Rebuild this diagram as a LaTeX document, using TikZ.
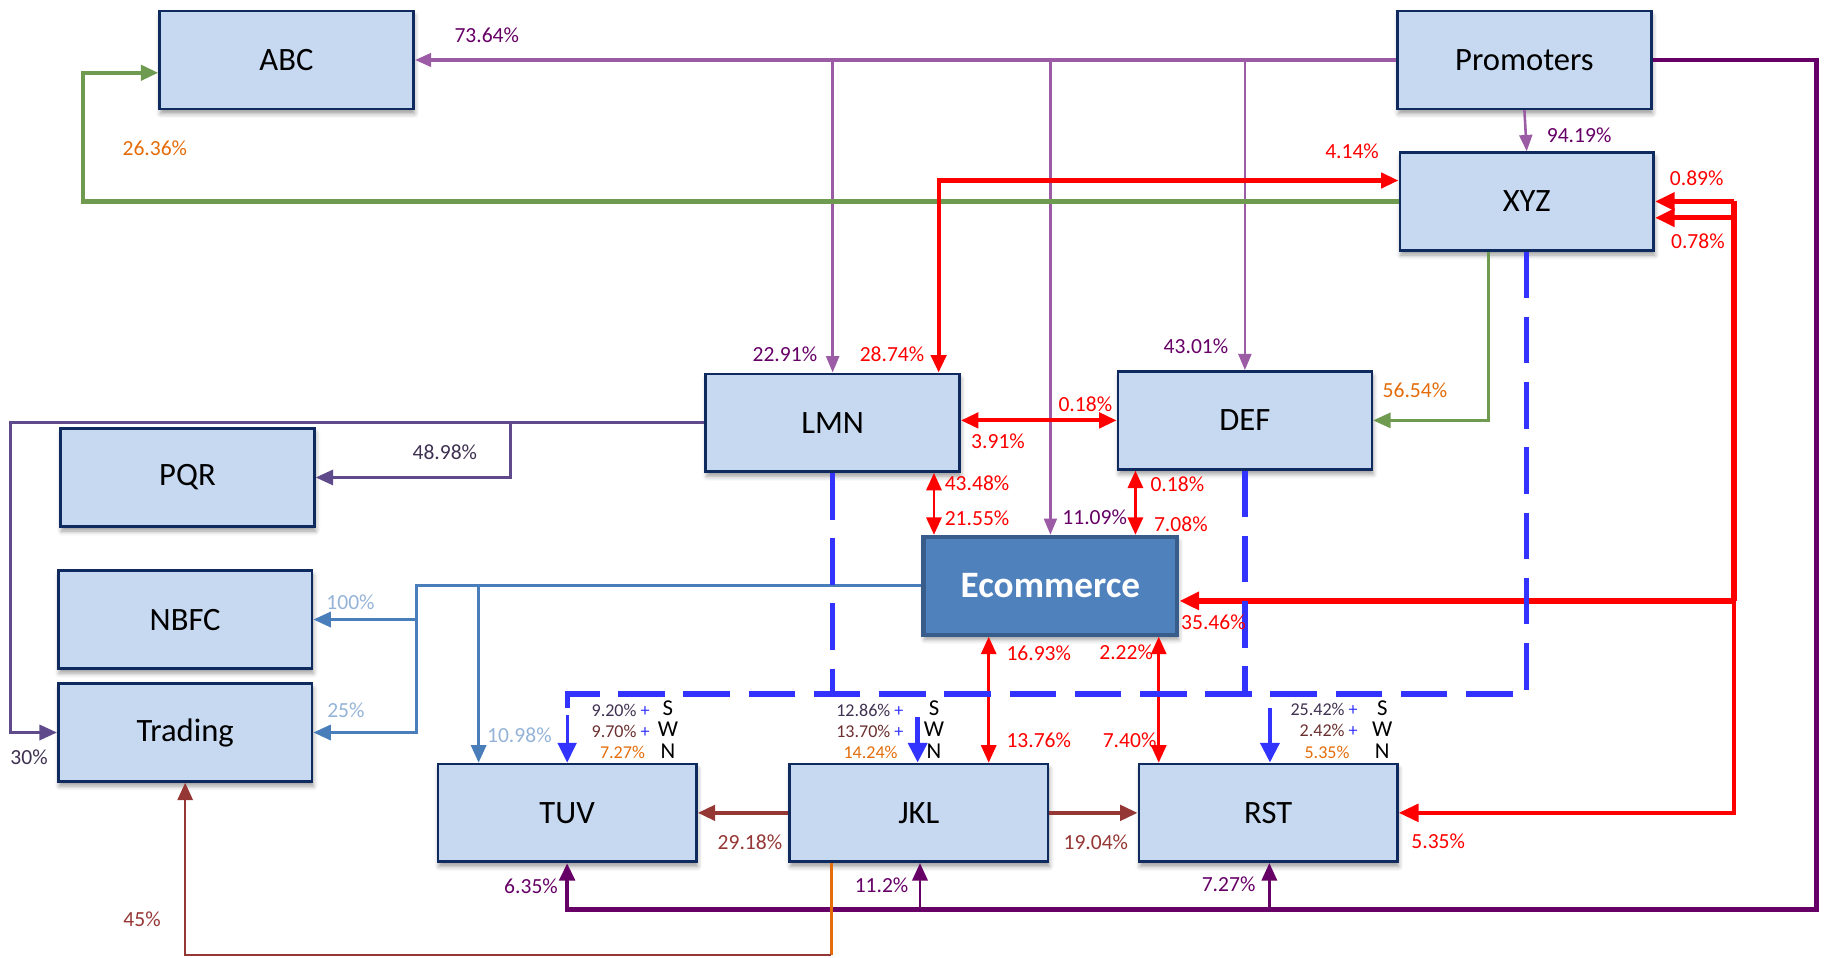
\documentclass[tikz,border=0pt]{standalone}
\usepackage{fontspec}
\setmainfont{Carlito}
\usetikzlibrary{arrows.meta,shadows.blur,calc}
\definecolor{boxfill}{HTML}{C6D9F1}
\definecolor{boxline}{HTML}{0E2A5E}
\definecolor{ecofill}{HTML}{4F81BD}
\definecolor{ecoline}{HTML}{385D8A}
\definecolor{purl}{HTML}{9B5BA5}
\definecolor{purd}{HTML}{660066}
\definecolor{labpur}{HTML}{660066}
\definecolor{grn}{HTML}{6E9B4F}
\definecolor{orng}{HTML}{E46C0A}
\definecolor{redc}{HTML}{FF0000}
\definecolor{steel}{HTML}{4A7EBB}
\definecolor{steell}{HTML}{95B3D7}
\definecolor{slate}{HTML}{5F4B8B}
\definecolor{slatet}{HTML}{3F3151}
\definecolor{bluel}{HTML}{3333FF}
\definecolor{brn}{HTML}{953735}
\definecolor{brnd}{HTML}{6B2F2F}
\begin{document}
\begin{tikzpicture}[x=1pt,y=-1pt,
  entbox/.style={draw=boxline, fill=boxfill, line width=2.2pt, minimum width=218pt, minimum height=84pt, inner sep=0pt,
    font=\fontsize{28}{32}\selectfont,
    blur shadow={shadow xshift=1pt,shadow yshift=-4pt,shadow blur radius=4pt,shadow opacity=40}},
  ecobox/.style={entbox, draw=ecoline, fill=ecofill, line width=3.5pt, text=white, font=\fontsize{32}{36}\selectfont\bfseries},
  pct/.style={font=\fontsize{18.5}{20}\selectfont, inner sep=0pt},
  swn/.style={font=\fontsize{15.5}{18}\selectfont, inner sep=0pt},
  dirl/.style={font=\fontsize{19.5}{22}\selectfont, inner sep=0pt},
  Ts/.tip={Triangle[length=14pt,width=11pt]},
  Tm/.tip={Triangle[length=15pt,width=13pt]},
  Tl/.tip={Triangle[length=17pt,width=15pt]},
  bdash/.style={draw=bluel, line width=4.5pt, dash pattern=on 40pt off 16pt},
]
\useasboundingbox (0,0) rectangle (1568,822);

% ---------------- boxes
\node[entbox] (ABC) at (246,51.5) {ABC};
\node[entbox] (PROM) at (1309,51.5) {Promoters};
\node[entbox] (XYZ) at (1311,173) {XYZ};
\node[entbox] (LMN) at (715,363) {LMN};
\node[entbox] (DEF) at (1069,361) {DEF};
\node[entbox] (PQR) at (161,410) {PQR};
\node[entbox] (NBFC) at (159,532) {NBFC};
\node[entbox] (TRD) at (159,629) {Trading};
\node[ecobox] (ECO) at (902,503) {Ecommerce};
\node[entbox, minimum width=222pt] (TUV) at (487,698) {TUV};
\node[entbox, minimum width=222pt] (JKL) at (789,698) {JKL};
\node[entbox, minimum width=222pt] (RST) at (1089,698) {RST};

% ---------------- promoters (light purple)
\draw[purl, line width=3.5pt, -Ts] (PROM.west) -- (ABC.east);
\coordinate (pb1) at (LMN.north |- PROM.west);
\coordinate (pb2) at (ECO.north |- PROM.west);
\coordinate (pb3) at (DEF.north |- PROM.west);
\draw[purl, line width=2.4pt, -Ts] (pb1) -- (LMN.north);
\draw[purl, line width=2.4pt, -Ts] (pb2) -- (ECO.north);
\draw[purl, line width=2.4pt, -Ts] (pb3) -- (DEF.north);
\draw[purl, line width=2.2pt, -Ts] (PROM.south) -- (XYZ.north);

% ---------------- promoters (dark purple loop)
\coordinate (pc1) at (1560,51.5);
\coordinate (pc2) at (1560,781);
\coordinate (pc3) at (TUV.south |- pc2);
\draw[purd, line width=4pt, -Tm] (PROM.east) -- (pc1) -- (pc2) -- (pc3) -- (TUV.south);
\draw[purd, line width=2.4pt, -Tm] ([xshift=1pt]JKL.south |- pc2) -- ([xshift=1pt]JKL.south);
\draw[purd, line width=2.4pt, -Tm] ([xshift=1pt]RST.south |- pc2) -- ([xshift=1pt]RST.south);

% ---------------- green
\coordinate (g1) at (71,173);
\draw[grn, line width=3.5pt, -Tm] (XYZ.west) -- (g1) |- ([yshift=-11pt]ABC.west);
\draw[grn, line width=2.2pt, -Tm] ([xshift=-33pt]XYZ.south) |- (DEF.east);

% ---------------- red
\draw[redc, line width=3.5pt, Tm-Tm] ([xshift=91pt]LMN.north) |- ([yshift=18pt]XYZ.west);
\draw[redc, line width=3.5pt, Tm-Tm] (LMN.east |- DEF.west) -- (DEF.west);
\draw[redc, line width=2.4pt, Tm-Tm] ([xshift=87pt]LMN.south) -- ([xshift=87pt]LMN.south |- ECO.north);
\draw[redc, line width=2.4pt, Tm-Tm] ([xshift=-94pt]DEF.south) -- ([xshift=-94pt]DEF.south |- ECO.north);
\draw[redc, line width=2.2pt, Tm-Tm] ([xshift=-53pt]ECO.south) -- ([xshift=-53pt]ECO.south |- JKL.north);
\draw[redc, line width=2.2pt, Tm-Tm] ([xshift=93pt]ECO.south) -- ([xshift=93pt]ECO.south |- RST.north);
\coordinate (rv1) at (1489,173);
\coordinate (rv2) at (1489,516);
\coordinate (rv3) at (RST.east -| rv1);
\draw[redc, line width=4.5pt] (rv1) -- (rv2);
\draw[redc, line width=4.5pt, -Tl] (rv1) -- (XYZ.east);
\draw[redc, line width=4.5pt, -Tl] ([yshift=-14pt]XYZ.east -| rv1) -- ([yshift=-14pt]XYZ.east);
\draw[redc, line width=4.5pt, -Tl] (rv2) -- (rv2 -| ECO.east);
\draw[redc, line width=3.5pt, -Tl] (rv2) -- (rv3) -- (RST.east);

% ---------------- slate (LMN to PQR, Trading)
\coordinate (s1) at (LMN.west -| 438,0);
\coordinate (s2) at (LMN.west -| 9,0);
\draw[slate, line width=2.5pt, -Tm] (LMN.west) -- (s1) |- (PQR.east);
\draw[slate, line width=2.5pt, -Tm] (s1) -- (s2) |- (TRD.west);

% ---------------- steel blue (Ecommerce)
\coordinate (st1) at (ECO.west -| 358,0);
\coordinate (st2) at (ECO.west -| 411,0);
\draw[steel, line width=2.5pt, -Tm] (ECO.west) -- (st1) |- (TRD.east);
\draw[steel, line width=2.5pt, -Tm] (st1 |- NBFC.east) -- (NBFC.east);
\draw[steel, line width=2.2pt, -Tm] (st2) -- (st2 |- TUV.north);

% ---------------- blue dashed
\coordinate (bR) at (XYZ.south |- 0,596);
\coordinate (bL) at (TUV.north |- 0,596);
\draw[bdash] (XYZ.south) -- (bR) -- (bL) -- ++(0,18) coordinate (bT);
\draw[bdash] (LMN.south) -- (LMN.south |- bR);
\draw[bdash] (DEF.south) -- (DEF.south |- bR);
\draw[bluel, line width=2.8pt, -{Triangle[length=17pt,width=16pt]}] (bT) -- (TUV.north);
\coordinate (bJ) at (788,616);
\draw[bluel, line width=4.5pt, -{Triangle[length=17pt,width=16pt]}] (bJ) -- (bJ |- JKL.north);
\coordinate (bS) at (1090.5,608);
\draw[bluel, line width=4pt, -{Triangle[length=17pt,width=16pt]}] (bS) -- (bS |- RST.north);

% ---------------- brown
\draw[brn, line width=3.5pt, -Tm] (JKL.west) -- (TUV.east);
\draw[brn, line width=3.5pt, -Tm] (JKL.east) -- (RST.west);
\coordinate (ob) at (714,820);
\draw[orng, line width=1.8pt] ([xshift=-75pt]JKL.south) -- (ob);
\draw[brn, line width=2.2pt, -Tm] (ob) -| (TRD.south);

% ---------------- labels
\node[pct, text=labpur] (l1) at (418,30) {73.64\%};
\node[pct, text=orng] (l2) at (133,127) {26.36\%};
\node[pct, text=labpur] (l3) at (1356,116) {94.19\%};
\node[pct, text=redc] (l4) at (1161,130) {4.14\%};
\node[pct, text=redc] (l5) at (1457,153) {0.89\%};
\node[pct, text=redc] (l6) at (1458,207) {0.78\%};
\node[pct, text=labpur] (l7) at (674,304) {22.91\%};
\node[pct, text=redc] (l8) at (766,304) {28.74\%};
\node[pct, text=labpur] (l9) at (1027,297) {43.01\%};
\node[pct, text=orng] (l10) at (1215,335) {56.54\%};
\node[pct, text=redc] (l11) at (932,347) {0.18\%};
\node[pct, text=redc] (l12) at (857,379) {3.91\%};
\node[pct, text=slatet] (l13) at (382,388) {48.98\%};
\node[pct, text=redc] (l14) at (839,415) {43.48\%};
\node[pct, text=redc] (l15) at (1011,416) {0.18\%};
\node[pct, text=redc] (l16) at (839,445) {21.55\%};
\node[pct, text=labpur] (l17) at (940,444) {11.09\%};
\node[pct, text=redc] (l18) at (1014,450) {7.08\%};
\node[pct, text=steell] (l19) at (301,517) {100\%};
\node[pct, text=redc] (l20) at (1042,534) {35.46\%};
\node[pct, text=redc] (l21) at (892,561) {16.93\%};
\node[pct, text=redc] (l22) at (967,560) {2.22\%};
\node[pct, text=steell] (l23) at (297,610) {25\%};
\node[pct, text=steell] (l24) at (446,631) {10.98\%};
\node[pct, text=redc] (l25) at (892,636) {13.76\%};
\node[pct, text=redc] (l26) at (970,636) {7.40\%};
\node[pct, text=slatet] (l27) at (25,650) {30\%};
\node[pct, text=brn] (l28) at (644,723) {29.18\%};
\node[pct, text=brn] (l29) at (941,723) {19.04\%};
\node[pct, text=redc] (l30) at (1235,722) {5.35\%};
\node[pct, text=labpur] (l31) at (456,761) {6.35\%};
\node[pct, text=labpur] (l32) at (757,760) {11.2\%};
\node[pct, text=labpur] (l33) at (1055,759) {7.27\%};
\node[pct, text=brn] (l34) at (122,789) {45\%};

% S / W / N groups
\node[swn, anchor=east, text=slatet] (t1) at (558,610) {9.20\% {\color{bluel}+}};
\node[swn, anchor=east, text=brnd] (t2) at (558,628) {9.70\% {\color{bluel}+}};
\node[swn, anchor=east, text=orng] (t3) at (554,646) {7.27\%};
\node[dirl] (t4) at (573.5,608) {S};
\node[dirl] (t5) at (573.5,626) {W};
\node[dirl] (t6) at (573.5,645) {N};

\node[swn, anchor=east, text=slatet] (j1) at (776,610) {12.86\% {\color{bluel}+}};
\node[swn, anchor=east, text=brnd] (j2) at (776,628) {13.70\% {\color{bluel}+}};
\node[swn, anchor=east, text=orng] (j3) at (771,646) {14.24\%};
\node[dirl] (j4) at (802,608) {S};
\node[dirl] (j5) at (802,626) {W};
\node[dirl] (j6) at (802,645) {N};

\node[swn, anchor=east, text=slatet] (r1) at (1166,609) {25.42\% {\color{bluel}+}};
\node[swn, anchor=east, text=brnd] (r2) at (1166,627) {2.42\% {\color{bluel}+}};
\node[swn, anchor=east, text=orng] (r3) at (1159,646) {5.35\%};
\node[dirl] (r4) at (1187,608) {S};
\node[dirl] (r5) at (1187,626) {W};
\node[dirl] (r6) at (1187,645) {N};
\end{tikzpicture}
\end{document}
